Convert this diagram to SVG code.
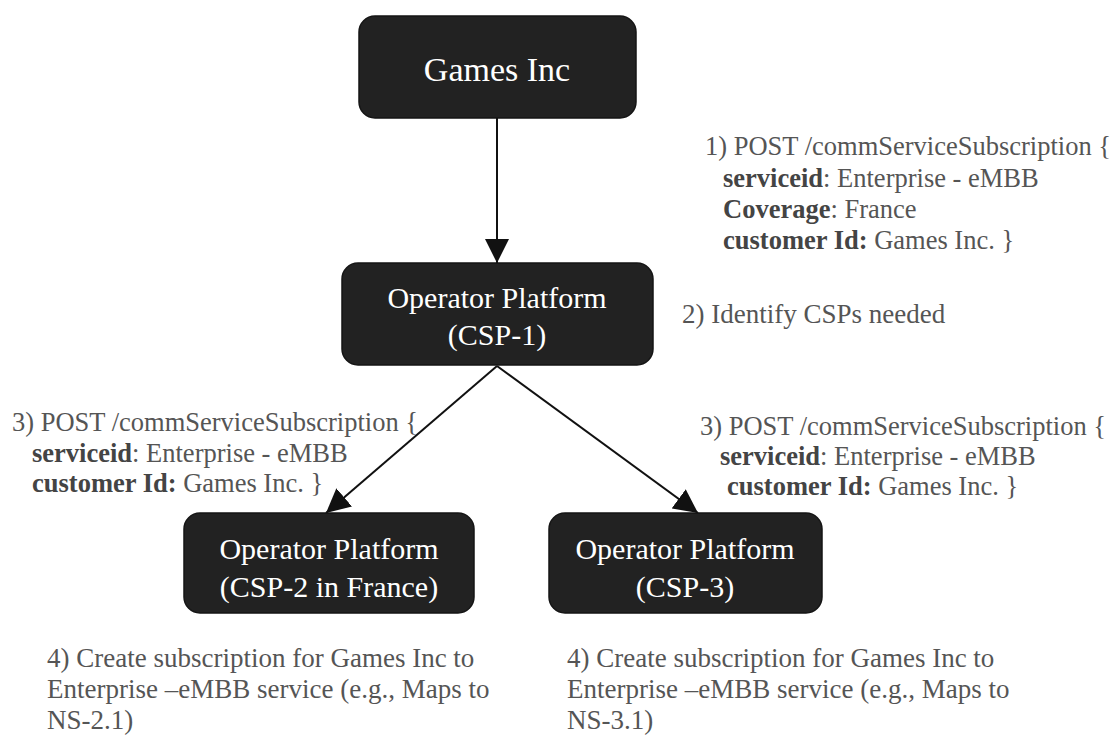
<svg xmlns="http://www.w3.org/2000/svg" width="1113" height="735" viewBox="0 0 1113 735">
<defs>
<style>
.box{fill:#222;stroke:#151515;stroke-width:1.5}
.bt{fill:#fff;font-family:"Liberation Serif",serif;text-anchor:middle}
.lb{fill:#555;font-family:"Liberation Serif",serif;font-size:26.5px}
.lb4{fill:#555;font-family:"Liberation Serif",serif;font-size:27px}
.b{font-weight:bold;fill:#444}
.con{stroke:#111;stroke-width:2;fill:none}
</style>
<marker id="ah" viewBox="0 0 10 10" refX="10" refY="5" markerWidth="24" markerHeight="24" markerUnits="userSpaceOnUse" orient="auto">
<path d="M0,0 L10,5 L0,10 z" fill="#111"/>
</marker>
</defs>
<rect width="1113" height="735" fill="#fff"/>
<g id="connectors">
<line class="con" x1="497" y1="118" x2="497" y2="263" marker-end="url(#ah)"/>
<line class="con" x1="497" y1="366" x2="326" y2="513" marker-end="url(#ah)"/>
<line class="con" x1="497" y1="366" x2="698" y2="513" marker-end="url(#ah)"/>
</g>
<g id="games">
<rect class="box" x="359" y="16" width="277" height="102" rx="16"/>
<text class="bt" x="497" y="81" font-size="34">Games Inc</text>
</g>
<g id="csp1">
<rect class="box" x="342" y="263" width="311" height="102" rx="16"/>
<text class="bt" x="497" y="308" font-size="30">Operator Platform</text>
<text class="bt" x="497" y="345" font-size="30">(CSP-1)</text>
</g>
<g id="csp2">
<rect class="box" x="184" y="513" width="290" height="100" rx="16"/>
<text class="bt" x="329" y="559" font-size="30">Operator Platform</text>
<text class="bt" x="329" y="597" font-size="30">(CSP-2 in France)</text>
</g>
<g id="csp3">
<rect class="box" x="549" y="513" width="273" height="100" rx="16"/>
<text class="bt" x="685" y="559" font-size="30">Operator Platform</text>
<text class="bt" x="685" y="597" font-size="30">(CSP-3)</text>
</g>
<g id="label1">
<text class="lb" x="705" y="155">1) POST /commServiceSubscription {</text>
<text class="lb" x="723" y="187"><tspan class="b">serviceid</tspan>: Enterprise - eMBB</text>
<text class="lb" x="723" y="218"><tspan class="b">Coverage</tspan>: France</text>
<text class="lb" x="723" y="249"><tspan class="b">customer Id:</tspan> Games Inc. }</text>
</g>
<g id="label2">
<text class="lb4" x="682" y="323">2)  Identify CSPs needed</text>
</g>
<g id="label3a">
<text class="lb" x="12" y="431">3) POST /commServiceSubscription {</text>
<text class="lb" x="32" y="462"><tspan class="b">serviceid</tspan>: Enterprise - eMBB</text>
<text class="lb" x="32" y="492"><tspan class="b">customer Id:</tspan> Games Inc. }</text>
</g>
<g id="label3b">
<text class="lb" x="700" y="435">3) POST /commServiceSubscription {</text>
<text class="lb" x="720" y="465"><tspan class="b">serviceid</tspan>: Enterprise - eMBB</text>
<text class="lb" x="727" y="495"><tspan class="b">customer Id:</tspan> Games Inc. }</text>
</g>
<g id="label4a">
<text class="lb4" x="47" y="667">4) Create subscription for Games Inc to</text>
<text class="lb4" x="47" y="698">Enterprise –eMBB service (e.g., Maps to</text>
<text class="lb4" x="47" y="729">NS-2.1)</text>
</g>
<g id="label4b">
<text class="lb4" x="567" y="667">4) Create subscription for Games Inc to</text>
<text class="lb4" x="567" y="698">Enterprise –eMBB service (e.g., Maps to</text>
<text class="lb4" x="567" y="729">NS-3.1)</text>
</g>
</svg>
